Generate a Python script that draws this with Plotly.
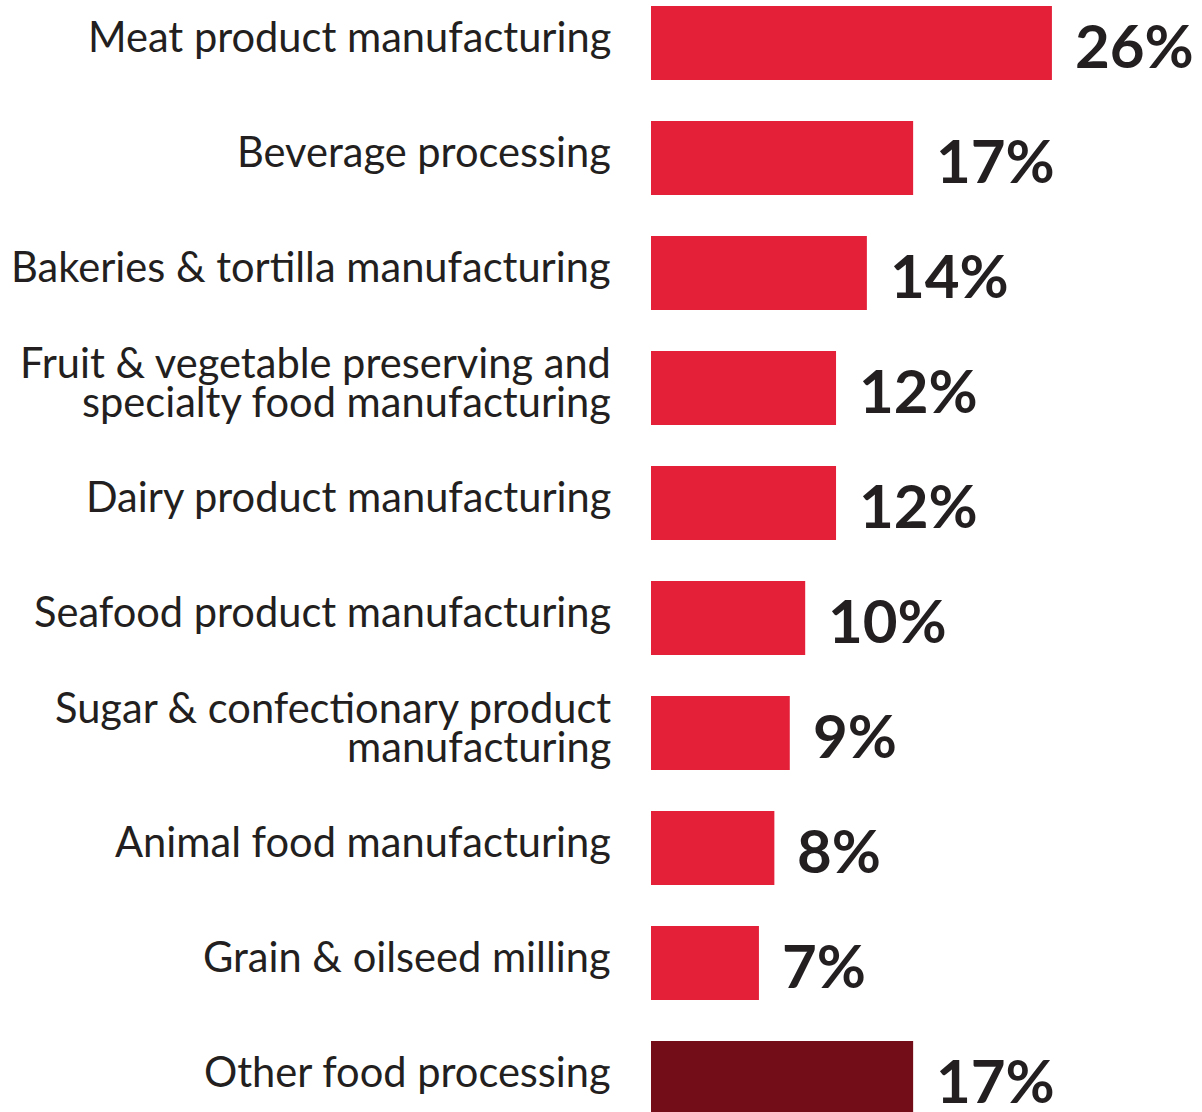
import plotly.graph_objects as go

# Share of food & beverage processing establishments by subsector
categories = [
    "Meat product manufacturing",
    "Beverage processing",
    "Bakeries & tortilla manufacturing",
    "Fruit & vegetable preserving and<br>specialty food manufacturing",
    "Dairy product manufacturing",
    "Seafood product manufacturing",
    "Sugar & confectionary product<br>manufacturing",
    "Animal food manufacturing",
    "Grain & oilseed milling",
    "Other food processing",
]
shares = [26, 17, 14, 12, 12, 10, 9, 8, 7, 17]
value_labels = ["26%", "17%", "14%", "12%", "12%", "10%", "9%", "8%", "7%", "17%"]

RED = "#E42039"
DARK = "#730E19"
TEXT = "#231F20"

colors = [RED] * (len(categories) - 1) + [DARK]
positions = list(range(len(categories)))

fig = go.Figure(
    go.Bar(
        x=shares,
        y=positions,
        orientation="h",
        marker=dict(color=colors, line=dict(width=0)),
        width=0.643,
        hoverinfo="skip",
    )
)

annotations = []
for pos, cat, val, lab in zip(positions, categories, shares, value_labels):
    lines = cat.split("<br>")
    n = len(lines)
    for i, line in enumerate(lines):
        offset = (i - (n - 1) / 2) * 39
        annotations.append(
            dict(
                x=0, xref="x", y=pos, yref="y",
                text=line, showarrow=False,
                xanchor="right", yanchor="middle",
                xshift=-38, yshift=-offset + 7,
                font=dict(family="Lato", size=41.6, color=TEXT),
            )
        )
    annotations.append(
        dict(
            x=val, xref="x", y=pos, yref="y",
            text=f"<b>{lab}</b>", showarrow=False,
            xanchor="left", yanchor="middle",
            xshift=21, yshift=-2,
            font=dict(family="Lato", size=60, color=TEXT),
        )
    )

px_per_unit = 115
plot_h = 1112
ymin = -43 / px_per_unit
ymax = ymin + plot_h / px_per_unit

fig.update_layout(
    width=1202,
    height=1112,
    margin=dict(l=651, r=0, t=0, b=0),
    paper_bgcolor="white",
    plot_bgcolor="white",
    showlegend=False,
    xaxis=dict(range=[0, 551 / 15.42], visible=False, fixedrange=True),
    yaxis=dict(range=[ymax, ymin], visible=False, fixedrange=True),
    annotations=annotations,
)

fig.write_html("out.html")
